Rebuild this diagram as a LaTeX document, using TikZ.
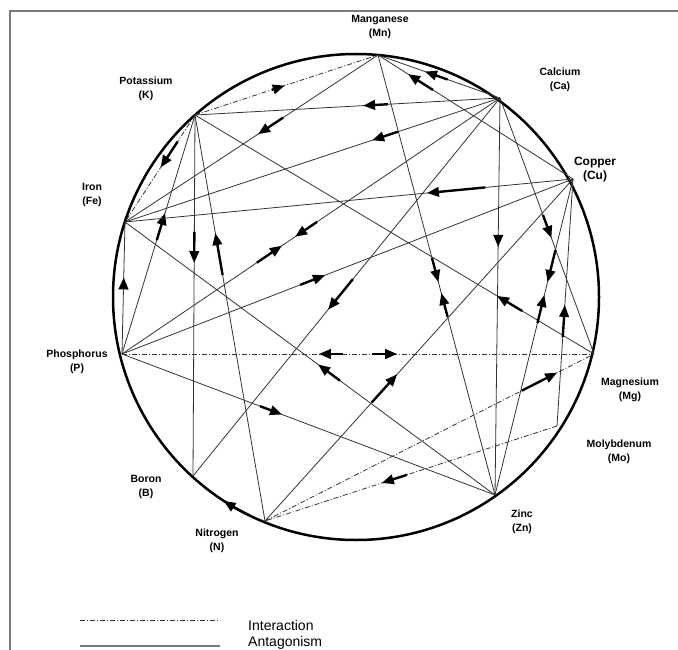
\documentclass[tikz,border=0pt]{standalone}
\usepackage{fontspec}
\setmainfont{Liberation Sans}
\usepackage{xcolor}
\definecolor{linegray}{HTML}{333333}
\definecolor{framegray}{HTML}{7A7A7A}
\usetikzlibrary{arrows.meta, calc}

\begin{document}
\begin{tikzpicture}[
        x=1pt, y=-1pt,
        font=\sffamily,
        elem_label/.style={
            align=center,
            inner sep=0pt,
            font=\fontsize{10.5}{13.5}\selectfont\bfseries
        },
        legend_text/.style={
            anchor=west,
            inner sep=0pt,
            font=\fontsize{14}{16}\selectfont
        },
        rim/.style={
            draw=black,
            line width=2.5pt
        },
        antag_line/.style={
            draw=linegray,
            line width=0.8pt
        },
        inter_line/.style={
            draw=linegray,
            line width=0.8pt,
            dash pattern=on 5pt off 2pt on 1pt off 2pt
        },
        arrow_mark/.style={
            -{Triangle[length=12pt, width=9.5pt]},
            draw=black,
            line width=2.4pt
        }
    ]

    \useasboundingbox (0,0) rectangle (678,650);

    % Frame
    \draw[framegray, line width=2pt] (10,650) -- (10,11) -- (678,11);

    % Nutrient wheel
    \coordinate (c) at (356,297);
    \draw[rim] (c) circle[radius=243];

    \coordinate (Mn) at (378,55);
    \coordinate (Ca) at (500,98);
    \coordinate (Cu) at (573,179);
    \coordinate (Mg) at (594,354);
    \coordinate (Mo) at (557,426);
    \coordinate (Zn) at (495,495);
    \coordinate (N)  at (265,521);
    \coordinate (B)  at (193,476);
    \coordinate (P)  at (122,354);
    \coordinate (Fe) at (125,222);
    \coordinate (K)  at (195,115);

    \node[elem_label] (Mn_lbl) at (380,27)  {Manganese\\(Mn)};
    \node[elem_label] (K_lbl)  at (146,89)  {Potassium\\(K)};
    \node[elem_label] (Ca_lbl) at (560,80)  {Calcium\\(Ca)};
    \node[elem_label, font=\fontsize{12}{14}\selectfont\bfseries] (Cu_lbl) at (595,170) {Copper\\(Cu)};
    \node[elem_label] (Fe_lbl) at (92,195)  {Iron\\(Fe)};
    \node[elem_label] (P_lbl)  at (77,362)  {Phosphorus\\(P)};
    \node[elem_label] (Mg_lbl) at (630,390) {Magnesium\\(Mg)};
    \node[elem_label] (Mo_lbl) at (619,452) {Molybdenum\\(Mo)};
    \node[elem_label] (B_lbl)  at (146,487) {Boron\\(B)};
    \node[elem_label] (N_lbl)  at (217,541) {Nitrogen\\(N)};
    \node[elem_label] (Zn_lbl) at (522,522) {Zinc\\(Zn)};

    % Manganese links
    \draw[inter_line] (K) -- (Mn);
    \draw[arrow_mark] ($(K)!0.42!(Mn)$) -- ($(K)!0.49!(Mn)$);
    \draw[antag_line] (Mn) -- (Fe);
    \draw[arrow_mark] ($(Mn)!0.375!(Fe)$) -- ($(Mn)!0.474!(Fe)$);
    \draw[antag_line] (Mn) -- (Zn);
    \draw[arrow_mark] ($(Mn)!0.461!(Zn)$) -- ($(Mn)!0.516!(Zn)$);
    \draw[arrow_mark] ($(Zn)!0.405!(Mn)$) -- ($(Zn)!0.459!(Mn)$);
    \draw[antag_line] (Ca) -- (Mn);
    \draw[arrow_mark] ($(Ca)!0.43!(Mn)$) -- ($(Ca)!0.615!(Mn)$);
    \draw[antag_line] (Cu) -- (Mn);
    \draw[arrow_mark] ($(Cu)!0.718!(Mn)$) -- ($(Cu)!0.846!(Mn)$);

    % Potassium links
    \draw[inter_line] (K) -- (Fe);
    \draw[arrow_mark] ($(K)!0.25!(Fe)$) -- ($(K)!0.49!(Fe)$);
    \draw[antag_line] (Ca) -- (K);
    \draw[arrow_mark] ($(Ca)!0.367!(K)$) -- ($(Ca)!0.449!(K)$);
    \draw[antag_line] (K) -- (B);
    \draw[arrow_mark] ($(K)!0.324!(B)$) -- ($(K)!0.41!(B)$);
    \draw[antag_line] (N) -- (K);
    \draw[arrow_mark] ($(N)!0.606!(K)$) -- ($(N)!0.709!(K)$);
    \draw[antag_line] (P) -- (K);
    \draw[arrow_mark] ($(P)!0.477!(K)$) -- ($(P)!0.59!(K)$);
    \draw[antag_line] (Mg) -- (K);
    \draw[arrow_mark] ($(Mg)!0.18!(K)$) -- ($(Mg)!0.243!(K)$);

    % Iron links
    \draw[antag_line] (Ca) -- (Fe);
    \draw[arrow_mark] ($(Ca)!0.272!(Fe)$) -- ($(Ca)!0.341!(Fe)$);
    \draw[antag_line] (Cu) -- (Fe);
    \draw[arrow_mark] ($(Cu)!0.196!(Fe)$) -- ($(Cu)!0.326!(Fe)$);
    \draw[antag_line] (Zn) -- (Fe);
    \draw[arrow_mark] ($(Zn)!0.419!(Fe)$) -- ($(Zn)!0.478!(Fe)$);
    \draw[antag_line] (P) -- (Fe);
    \draw[arrow_mark] ($(P)!0.5!(Fe)$) -- ($(P)!0.58!(Fe)$);

    % Phosphorus links
    \draw[antag_line] (P) -- (Ca);
    \draw[arrow_mark] ($(P)!0.357!(Ca)$) -- ($(P)!0.423!(Ca)$);
    \draw[arrow_mark] ($(Ca)!0.484!(P)$) -- ($(Ca)!0.542!(P)$);
    \draw[antag_line] (P) -- (Cu);
    \draw[arrow_mark] ($(P)!0.395!(Cu)$) -- ($(P)!0.45!(Cu)$);
    \draw[antag_line] (P) -- (Zn);
    \draw[arrow_mark] ($(P)!0.37!(Zn)$) -- ($(P)!0.429!(Zn)$);
    \draw[inter_line] (P) -- (Mg);
    \draw[arrow_mark] ($(P)!0.53!(Mg)$) -- ($(P)!0.583!(Mg)$);
    \draw[arrow_mark] ($(Mg)!0.532!(P)$) -- ($(Mg)!0.583!(P)$);

    % Calcium links
    \draw[antag_line] (Ca) -- (B);
    \draw[arrow_mark] ($(Ca)!0.479!(B)$) -- ($(Ca)!0.56!(B)$);
    \draw[antag_line] (Ca) -- (Zn);
    \draw[arrow_mark] ($(Ca)!0.345!(Zn)$) -- ($(Ca)!0.375!(Zn)$);
    \draw[antag_line] (Ca) -- (Mg);
    \draw[arrow_mark] ($(Ca)!0.457!(Mg)$) -- ($(Ca)!0.547!(Mg)$);

    % Copper links
    \draw[antag_line] (N) -- (Cu);
    \draw[arrow_mark] ($(N)!0.347!(Cu)$) -- ($(N)!0.429!(Cu)$);
    \draw[antag_line] (Cu) -- (Zn);
    \draw[arrow_mark] ($(Cu)!0.225!(Zn)$) -- ($(Cu)!0.326!(Zn)$);
    \draw[arrow_mark] ($(Zn)!0.544!(Cu)$) -- ($(Zn)!0.633!(Cu)$);
    \draw[antag_line] (Mo) -- (Cu);
    \draw[arrow_mark] ($(Mo)!0.36!(Cu)$) -- ($(Mo)!0.49!(Cu)$);

    % Nitrogen links
    \draw[inter_line] (N) -- (Mg);
    \draw[arrow_mark] ($(N)!0.781!(Mg)$) -- ($(N)!0.888!(Mg)$);
    \draw[inter_line] (Mo) -- (N);
    \draw[arrow_mark] ($(Mo)!0.514!(N)$) -- ($(Mo)!0.6!(N)$);
    \draw[arrow_mark] ($(c)+(116:243)$) arc[start angle=116, end angle=123, radius=243];

    % Legend
    \coordinate (leg_a) at (80,620);
    \coordinate (leg_b) at (220,620);
    \coordinate (leg_c) at (80,646);
    \coordinate (leg_d) at (220,646);
    \draw[inter_line] (leg_a) -- (leg_b);
    \draw[framegray, line width=1.6pt] (leg_c) -- (leg_d);
    \node[legend_text] (inter_txt) at (248,625) {Interaction};
    \node[legend_text] (antag_txt) at (248,643) {Antagonism};

\end{tikzpicture}
\end{document}
